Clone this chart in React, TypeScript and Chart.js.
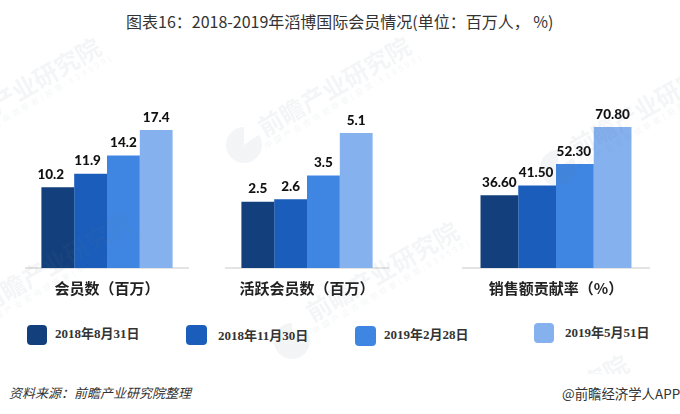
import React, { useEffect, useRef } from 'react';
import { Chart, registerables } from 'chart.js';

Chart.register(...registerables);

const dates = ['2018年8月31日', '2018年11月30日', '2019年2月28日', '2019年5月51日'];
const colors = ['#133f7d', '#1a5dbb', '#3f86e3', '#85b1ef'];

const memberValues = [10.2, 11.9, 14.2, 17.4];
const activeValues = [2.5, 2.6, 3.5, 5.1];
const salesValues = [36.6, 41.5, 52.3, 70.8];

const memberLabel = '会员数（百万）';
const activeLabel = '活跃会员数（百万）';
const salesLabel = '销售额贡献率（%）';

const cjk = '"Noto Sans CJK SC", sans-serif';

// 数值标签
const valueLabels = {
  id: 'valueLabels',
  afterDatasetsDraw(chart: any) {
    const { ctx } = chart;
    const { digits, shifts } = chart.options.plugins.valueLabels;
    ctx.save();
    ctx.font = '900 13.5px Lato, sans-serif';
    ctx.fillStyle = '#111';
    ctx.textAlign = 'center';
    ctx.textBaseline = 'bottom';
    chart.data.datasets.forEach((ds: any, i: number) => {
      const bar = chart.getDatasetMeta(i).data[0];
      ctx.fillText(ds.data[0].toFixed(digits), bar.x + shifts[i], bar.y - 6);
    });
    ctx.restore();
  },
};

type PanelProps = {
  label: string;
  values: number[];
  max: number;
  digits: number;
  shifts: number[];
  left: number;
  width: number;
  catPct: number;
};

function Panel({ label, values, max, digits, shifts, left, width, catPct }: PanelProps) {
  const ref = useRef<HTMLCanvasElement>(null);

  useEffect(() => {
    if (!ref.current) return;
    const chart = new Chart(ref.current, {
      type: 'bar',
      data: {
        labels: [label],
        datasets: dates.map((d, i) => ({
          label: d,
          data: [values[i]],
          backgroundColor: colors[i],
          barPercentage: 1,
          categoryPercentage: catPct,
        })),
      },
      options: {
        animation: false,
        responsive: false,
        layout: { padding: 0 },
        plugins: {
          legend: { display: false },
          tooltip: { enabled: false },
          valueLabels: { digits, shifts },
        } as any,
        scales: {
          x: {
            grid: { display: false, drawTicks: false },
            border: { color: '#e4e4e4', width: 2 },
            ticks: {
              color: '#222',
              padding: 11,
              font: { family: cjk, size: 15, weight: 'bold' },
            },
            afterFit: (s: any) => { s.height = 36; },
          },
          y: { display: false, min: 0, max },
        },
      },
      plugins: [valueLabels],
    });
    return () => chart.destroy();
  }, []);

  return (
    <canvas
      ref={ref}
      width={width}
      height={204}
      style={{ position: 'absolute', left, top: 100, width, height: 204 }}
    />
  );
}

const legendItems = [
  { x: 27, y: 325, w: 20, tx: 55, ty: 334 },
  { x: 186, y: 325, w: 21, tx: 218, ty: 336 },
  { x: 355, y: 326, w: 21, tx: 384, ty: 335 },
  { x: 534, y: 323, w: 20, tx: 565, ty: 333 },
];

// 水印
const marks = [
  { x: 24, y: 87 }, { x: 334, y: 86 }, { x: 646, y: 106 },
  { x: 55, y: 262 }, { x: 382, y: 271 }, { x: 552, y: 404 },
];
const logos = [
  { x: 244, y: 145 }, { x: 558, y: 168 }, { x: 292, y: 341 },
];
const markColor = 'rgba(100,115,140,0.075)';

export default function App() {
  useEffect(() => {
    document.body.style.margin = '0';
  }, []);

  return (
    <div style={{ position: 'relative', width: 680, height: 414, overflow: 'hidden', background: '#fff', fontFamily: cjk }}>
      <div style={{ position: 'absolute', left: 126, top: 10, fontSize: 16, lineHeight: '22px', color: '#333', whiteSpace: 'nowrap' }}>
        图表16：2018-2019年滔博国际会员情况(单位：百万人， %)
      </div>

      <Panel label={memberLabel} values={memberValues} max={21.2} digits={1} shifts={[-7, -3, 0, 0]} left={25} width={164} catPct={0.8} />
      <Panel label={activeLabel} values={activeValues} max={6.35} digits={1} shifts={[0, 0, 0, 0]} left={225} width={164} catPct={0.8} />
      <Panel label={salesLabel} values={salesValues} max={84.4} digits={2} shifts={[0, -1, -1, 0]} left={462} width={188} catPct={0.803} />

      {dates.map((d, i) => (
        <React.Fragment key={d}>
          <div style={{ position: 'absolute', left: legendItems[i].x, top: legendItems[i].y, width: legendItems[i].w, height: 20, borderRadius: 4, background: colors[i] }} />
          <div style={{ position: 'absolute', left: legendItems[i].tx, top: legendItems[i].ty - 10, lineHeight: '20px', fontSize: 13, fontWeight: 'bold', color: '#333', whiteSpace: 'nowrap', fontFamily: '"Liberation Serif", "Noto Sans CJK SC", serif' }}>
            {d}
          </div>
        </React.Fragment>
      ))}

      <div style={{ position: 'absolute', left: 0, top: 0, width: 680, height: 374, overflow: 'hidden', pointerEvents: 'none' }}>
        {marks.map((m, i) => (
          <div key={i} style={{ position: 'absolute', left: m.x - 90, top: m.y - 12, width: 180, textAlign: 'center', transform: 'rotate(-30deg)', transformOrigin: 'center 12px', color: markColor, whiteSpace: 'nowrap' }}>
            <div style={{ fontSize: 24.5, fontWeight: 'bold', lineHeight: '24px' }}>前瞻产业研究院</div>
            <div style={{ fontSize: 8, lineHeight: '4px', marginTop: 4, letterSpacing: 3 }}>中国产业咨询领导者(股票:839599)</div>
          </div>
        ))}
        {logos.map((l, i) => (
          <div key={i} style={{ position: 'absolute', left: l.x - 18, top: l.y - 18, width: 36, height: 36, borderRadius: '50%', background: `conic-gradient(transparent 0deg 55deg, ${markColor} 55deg 360deg)` }} />
        ))}
      </div>

      <div style={{ position: 'absolute', left: 9, top: 383, lineHeight: '20px', fontSize: 13, fontStyle: 'italic', color: '#333' }}>
        资料来源：前瞻产业研究院整理
      </div>
      <div style={{ position: 'absolute', left: 562, top: 383, lineHeight: '20px', fontSize: 13.4, color: '#333', whiteSpace: 'nowrap' }}>
        @前瞻经济学人APP
      </div>
    </div>
  );
}
